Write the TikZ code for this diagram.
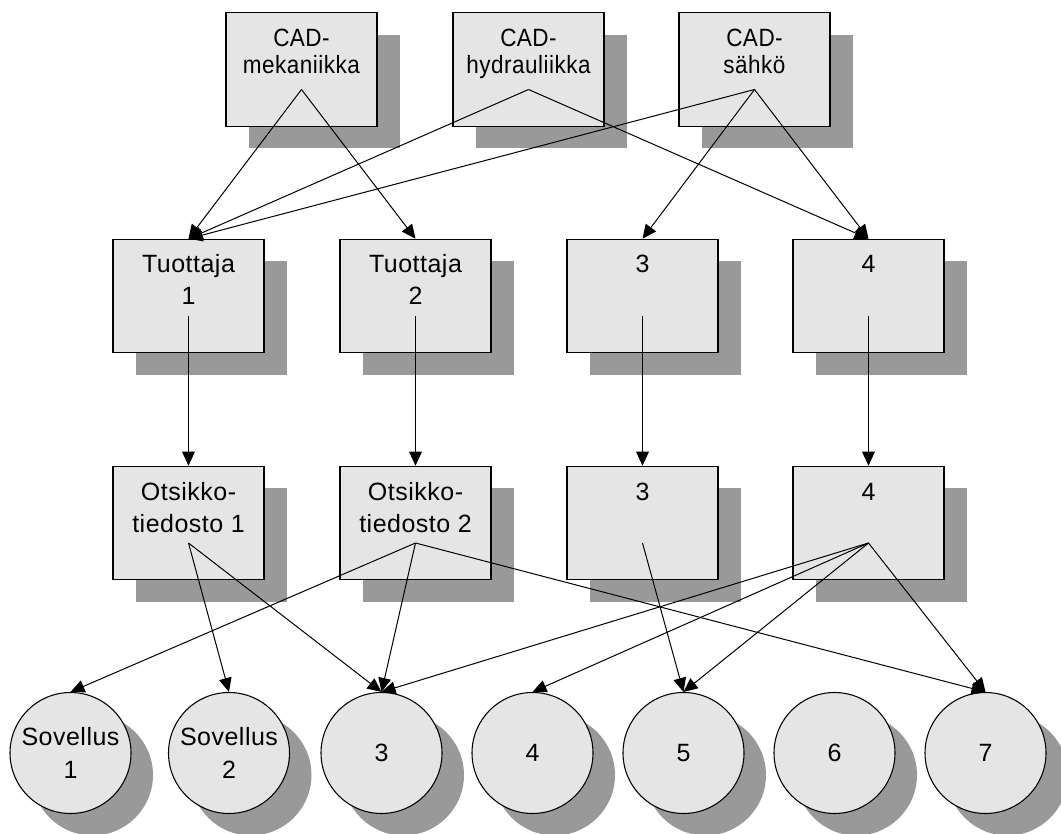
\documentclass[tikz,border=0pt]{standalone}
\usepackage{fontspec}
\setmainfont{Liberation Sans}[LetterSpace=2]
\newfontfamily\topfont{Liberation Sans}[FakeStretch=0.9,LetterSpace=2]
\usetikzlibrary{arrows.meta,shadows}

\definecolor{boxfill}{HTML}{E5E5E5}
\definecolor{shadowgray}{HTML}{999999}

\begin{document}
\begin{tikzpicture}[x=0.75pt,y=-0.75pt,
  box/.style={draw=black, line width=0.9pt, fill=boxfill,
    minimum width=113.25pt, minimum height=85pt, inner sep=0pt,
    drop shadow={shadow xshift=17pt, shadow yshift=-16.5pt, fill=shadowgray, opacity=1}},
  orb/.style={circle, draw=black, line width=0.8pt, fill=boxfill,
    minimum size=90.75pt, inner sep=0pt, align=center,
    font=\fontsize{18.75}{25}\selectfont,
    drop shadow={shadow xshift=16.5pt, shadow yshift=-16.5pt, fill=shadowgray, opacity=1}},
  lbl/.style={anchor=base, align=center, inner sep=0pt,
    font=\fontsize{18.75}{24}\selectfont},
  toplbl/.style={anchor=base, align=center, inner sep=0pt,
    font=\topfont\fontsize{18.75}{20.25}\selectfont},
  link/.style={line width=0.75pt, -{Triangle[length=10.5pt,width=9.5pt]}},
]
\useasboundingbox (0,0) rectangle (1061,834);

% CAD sources (labels placed by the baseline of their last line)
\node[box] (m1) at (301.5,69.5) {};
\node[box] (m2) at (528.5,69.5) {};
\node[box] (m3) at (754.5,69.5) {};
\node[toplbl] (m1t) at (301.5,74) {CAD-\\mekaniikka};
\node[toplbl] (m2t) at (528.5,74) {CAD-\\hydrauliikka};
\node[toplbl] (m3t) at (754.5,74) {CAD-\\sähkö};

% producers
\node[box] (p1) at (188.5,296) {};
\node[box] (p2) at (415.5,296) {};
\node[box] (p3) at (642.5,296) {};
\node[box] (p4) at (868.5,296) {};
\node[lbl] (p1t) at (188.5,305) {Tuottaja\\1};
\node[lbl] (p2t) at (415.5,305) {Tuottaja\\2};
\node[lbl] (p3t) at (642.5,273) {3};
\node[lbl] (p4t) at (868.5,273) {4};

% header files
\node[box] (h1) at (188.5,523) {};
\node[box] (h2) at (415.5,523) {};
\node[box] (h3) at (642.5,523) {};
\node[box] (h4) at (868.5,523) {};
\node[lbl] (h1t) at (188.5,532) {Otsikko-\\tiedosto 1};
\node[lbl] (h2t) at (415.5,532) {Otsikko-\\tiedosto 2};
\node[lbl] (h3t) at (642.5,500) {3};
\node[lbl] (h4t) at (868.5,500) {4};

% applications
\node[orb] (a1) at (70.5,753) {Sovellus\\1};
\node[orb] (a2) at (229,753) {Sovellus\\2};
\node[orb] (a3) at (381.5,753) {3};
\node[orb] (a4) at (532.5,753) {4};
\node[orb] (a5) at (683.5,753) {5};
\node[orb] (a6) at (834.5,753) {6};
\node[orb] (a7) at (985.5,753) {7};

% connections
\draw[link] ([yshift=-15pt]m1.center) -- (p1.north);
\draw[link] ([yshift=-15pt]m1.center) -- (p2.north);
\draw[link] ([yshift=-15pt]m2.center) -- (p1.north);
\draw[link] ([yshift=-15pt]m2.center) -- (p4.north);
\draw[link] ([yshift=-15pt]m3.center) -- (p1.north);
\draw[link] ([yshift=-15pt]m3.center) -- (p3.north);
\draw[link] ([yshift=-15pt]m3.center) -- (p4.north);

\draw[link] ([yshift=-15pt]p1.center) -- (h1.north);
\draw[link] ([yshift=-15pt]p2.center) -- (h2.north);
\draw[link] ([yshift=-15pt]p3.center) -- (h3.north);
\draw[link] ([yshift=-15pt]p4.center) -- (h4.north);

\draw[link] ([yshift=-15pt]h1.center) -- (a2.north);
\draw[link] ([yshift=-15pt]h1.center) -- (a3.north);
\draw[link] ([yshift=-15pt]h2.center) -- (a1.north);
\draw[link] ([yshift=-15pt]h2.center) -- (a3.north);
\draw[link] ([yshift=-15pt]h2.center) -- (a7.north);
\draw[link] ([yshift=-15pt]h3.center) -- (a5.north);
\draw[link] ([yshift=-15pt]h4.center) -- (a3.north);
\draw[link] ([yshift=-15pt]h4.center) -- (a4.north);
\draw[link] ([yshift=-15pt]h4.center) -- (a5.north);
\draw[link] ([yshift=-15pt]h4.center) -- (a7.north);
\end{tikzpicture}
\end{document}
